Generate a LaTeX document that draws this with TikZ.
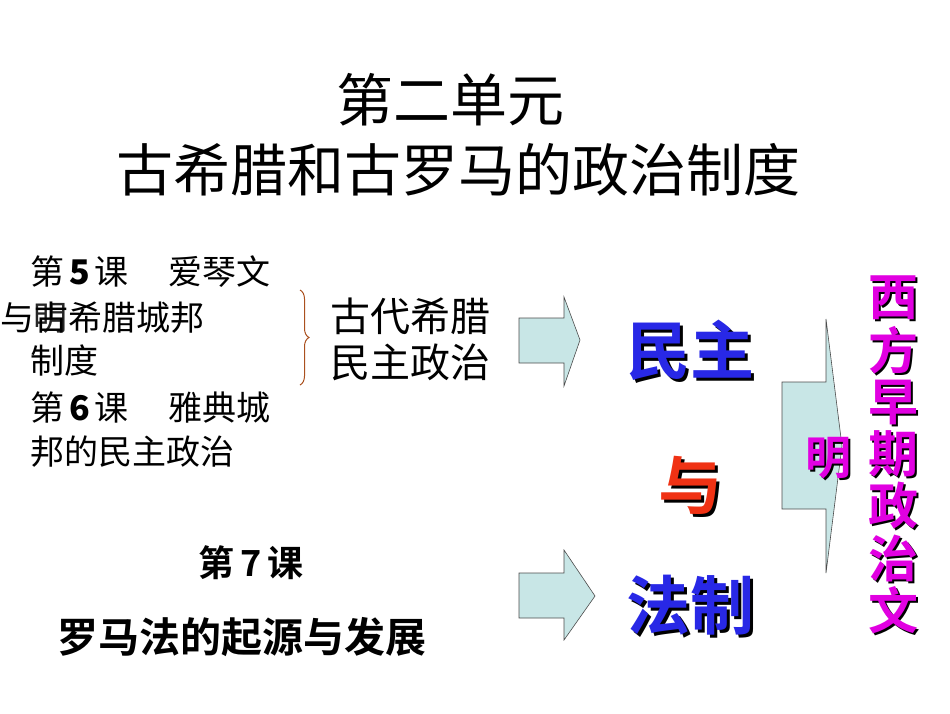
\documentclass[tikz,border=0pt]{standalone}
\usepackage{fontspec}
\setmainfont{Liberation Sans}
\newfontfamily\cjk{Noto Sans CJK SC}
\newfontfamily\cjkb{Noto Sans CJK SC Bold}
\usetikzlibrary{decorations.pathreplacing,calc}
\definecolor{arrowfill}{RGB}{200,230,230}
\definecolor{bigblue}{RGB}{40,40,230}
\definecolor{bigred}{RGB}{240,50,20}
\definecolor{mag}{RGB}{225,0,225}
\definecolor{bracec}{RGB}{170,80,30}
\tikzset{
  fatarrow/.style={draw=black!70, fill=arrowfill, line width=0.6pt},
  lefttxt/.style={anchor=west, inner sep=0, font=\cjk\fontsize{34}{34}\selectfont},
  shadowtxt/.style={inner sep=0, text=black},
}
\newcommand{\shadowed}[4]{% name, pos, color, text
  \node[shadowtxt, font=\cjkb\fontsize{64}{64}\selectfont] at ($#2+(3,3)$) {#4};
  \node[inner sep=0, text=#3, font=\cjkb\fontsize{64}{64}\selectfont] (#1) at #2 {#4};}
\begin{document}
\begin{tikzpicture}[x=1pt,y=-1pt]
\useasboundingbox (0,0) rectangle (950,713);
% title
\node[font=\cjk\fontsize{57}{57}\selectfont, inner sep=0] (t1) at (450,100) {第二单元};
\node[font=\cjk\fontsize{57}{57}\selectfont, inner sep=0] (t2) at (458,170) {古希腊和古罗马的政治制度};
% left texts
\node[lefttxt] (l1) at (30,272) {第\hspace{5pt}\textbf{5}\hspace{5pt}课\hspace{40pt}爱琴文};
\node[lefttxt] (l2) at (0,318) {与古希腊城邦};
\node[lefttxt, opacity=0.85] (l2b) at (33,318) {明};
\node[lefttxt] (l3) at (30,360) {制度};
\node[lefttxt] (l4) at (30,408) {第\hspace{5pt}\textbf{6}\hspace{5pt}课\hspace{40pt}雅典城};
\node[lefttxt] (l5) at (30,452) {邦的民主政治};
\draw[bracec, line width=1pt, decorate, decoration={brace, amplitude=9pt}] (300,290) coordinate (b1) -- (300,385) coordinate (b2);
\node[anchor=west, inner sep=0, font=\cjk\fontsize{40}{40}\selectfont] (g1) at (330,316) {古代希腊};
\node[anchor=west, inner sep=0, font=\cjk\fontsize{40}{40}\selectfont] (g2) at (330,362) {民主政治};
% lesson 7
\node[inner sep=0, font=\cjkb\fontsize{36}{36}\selectfont] (l7) at (251,563) {第\,7\,课};
\node[inner sep=0, font=\cjkb\fontsize{41}{41}\selectfont] (l8) at (242,637) {罗马法的起源与发展};
% arrows
\draw[fatarrow] (519,318) -- (564,318) -- (564,297) -- (580,340) -- (564,386) -- (564,363) -- (519,363) -- cycle;
\draw[fatarrow] (519,573) -- (564,573) -- (564,550) -- (595,596) -- (564,640) -- (564,618) -- (519,618) -- cycle;
\draw[fatarrow] (782,382) -- (826,382) -- (826,319) -- (842,446) -- (826,573) -- (826,509) -- (782,509) -- cycle;
% big words
\shadowed{m1}{(690,350)}{bigblue}{民主}
\shadowed{m2}{(690,485)}{bigred}{与}
\shadowed{m3}{(690,605)}{bigblue}{法制}
% magenta column
\foreach \c [count=\i] in {西,方,早,期,政,治,文}{
  \node[text=black, inner sep=0, font=\cjkb\fontsize{50}{50}\selectfont] at (895,{246+52*\i+2}) {\c};
  \node[text=mag, inner sep=0, font=\cjkb\fontsize{50}{50}\selectfont] (w\i) at (893,{246+52*\i}) {\c};
}
\node[text=black, inner sep=0, font=\cjkb\fontsize{46}{46}\selectfont] at (830,460) {明};
\node[text=mag, inner sep=0, font=\cjkb\fontsize{46}{46}\selectfont] (ming) at (828,458) {明};
\end{tikzpicture}
\end{document}
